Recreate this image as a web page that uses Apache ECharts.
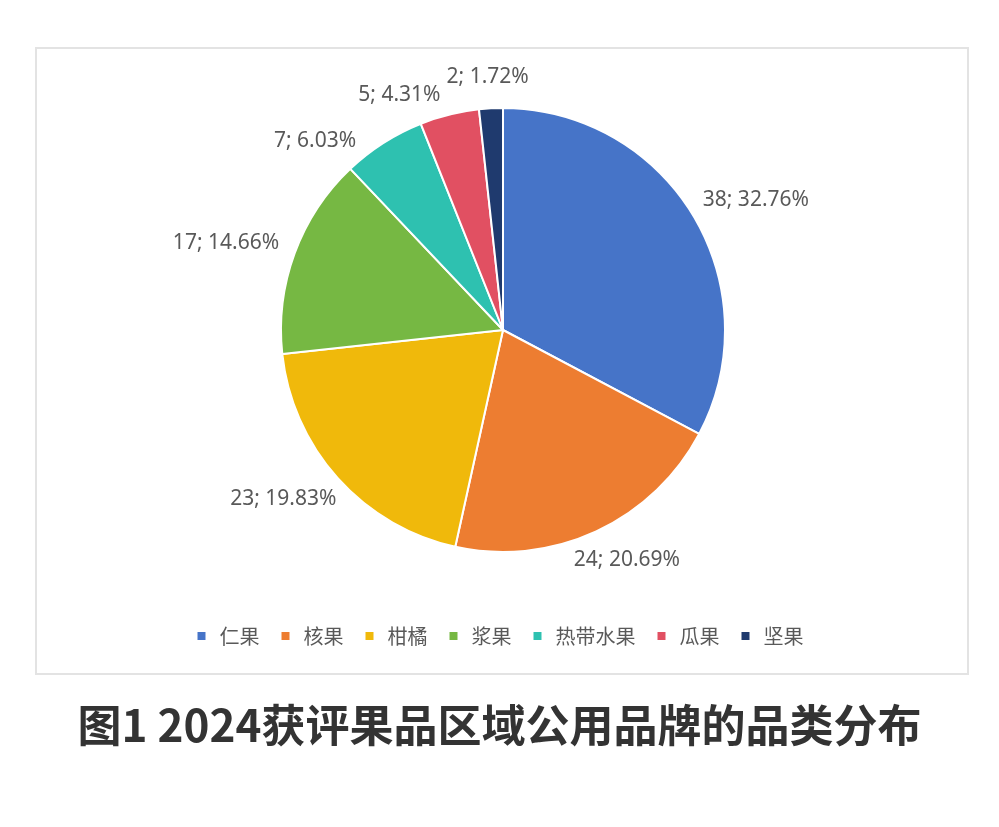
<!DOCTYPE html>
<html>
<head>
<meta charset="utf-8">
<script src="https://cdn.jsdelivr.net/npm/echarts@6/dist/echarts.min.js"></script>
<style>
html,body{margin:0;padding:0;background:#fff;}
#frame{position:absolute;left:35px;top:47px;width:934px;height:628px;border:2px solid #e3e3e3;box-sizing:border-box;}
#chart{position:absolute;left:0;top:0;width:999px;height:827px;}
</style>
</head>
<body>
<div id="frame"></div>
<div id="chart"></div>
<script>
var categories = ['仁果', '核果', '柑橘', '浆果', '热带水果', '瓜果', '坚果'];
var values = [38, 24, 23, 17, 7, 5, 2];
var colors = ['#4674C8', '#ED7D31', '#F0B90B', '#76B843', '#2EC1B0', '#E15062', '#1F3A6E'];
var titleText = '图1 2024获评果品区域公用品牌的品类分布';

var CX = 503, CY = 330, R = 222, GAP = 20;
var LABEL_FONT = '21px "Noto Sans"';
var total = values.reduce(function (a, b) { return a + b; }, 0);

// percent text the same way the label shows it
function pctText(i) { return (values[i] / total * 100).toFixed(2); }

// measure label widths
var ctx = document.createElement('canvas').getContext('2d');
ctx.font = LABEL_FONT;
var labelW = values.map(function (v, i) { return ctx.measureText(v + '; ' + pctText(i) + '%').width; });
var HH = 11, PADX = 2, PADY = 12;

function centerAt(a, i) {
  var dx = Math.sin(a), dy = -Math.cos(a);
  return [CX + dx * (R + GAP) + labelW[i] / 2 * dx, CY + dy * (R + GAP) + HH * dy];
}
function boxOf(c, i) {
  return [c[0] - labelW[i] / 2 - PADX, c[1] - HH - PADY, c[0] + labelW[i] / 2 + PADX, c[1] + HH + PADY];
}
function overlap(a, b) { return a[0] < b[2] && b[0] < a[2] && a[1] < b[3] && b[1] < a[3]; }

// place labels, resolving overlaps by sliding small slices' labels counter-clockwise
var positions = [];
var placed = [];
(function () {
  var mids = [];
  var before = 0;
  for (var i = 0; i < values.length; i++) {
    mids.push((before + values[i] / 2) / total * Math.PI * 2);
    before += values[i];
  }
  for (var j = values.length - 1; j >= 0; j--) {
    var a = mids[j];
    var c = centerAt(a, j);
    var guard = 0;
    while (placed.some(function (b) { return overlap(boxOf(c, j), b); }) && guard < 200) {
      a -= Math.PI / 360;
      c = centerAt(a, j);
      guard++;
    }
    positions[j] = c;
    placed.push(boxOf(c, j));
  }
})();

var chart = echarts.init(document.getElementById('chart'), null, {renderer: 'canvas'});
chart.setOption({
  backgroundColor: 'transparent',
  animation: false,
  color: colors,
  title: {
    text: titleText,
    left: 'center',
    top: 698,
    textStyle: {fontFamily: 'Noto Sans CJK SC', fontWeight: 'bold', fontSize: 44, color: '#333333'}
  },
  legend: {
    data: categories,
    left: 'center',
    top: 621,
    icon: 'rect',
    itemWidth: 10,
    itemHeight: 10,
    itemGap: 20,
    textStyle: {fontFamily: 'Noto Sans CJK SC', fontSize: 20, color: '#595959', padding: [0, 0, 0, 8]}
  },
  series: [{
    type: 'pie',
    center: [CX, CY],
    radius: [0, R],
    startAngle: 90,
    clockwise: true,
    avoidLabelOverlap: false,
    itemStyle: {borderColor: '#ffffff', borderWidth: 2},
    label: {
      show: true,
      position: 'outside',
      formatter: '{c}; {d}%',
      fontFamily: 'Noto Sans',
      fontSize: 21,
      color: '#595959'
    },
    labelLine: {show: false},
    labelLayout: function (p) {
      var c = positions[p.dataIndex];
      return {x: c[0], y: c[1], align: 'center', verticalAlign: 'middle'};
    },
    data: categories.map(function (c, i) { return {name: c, value: values[i]}; })
  }]
});
</script>
</body>
</html>
